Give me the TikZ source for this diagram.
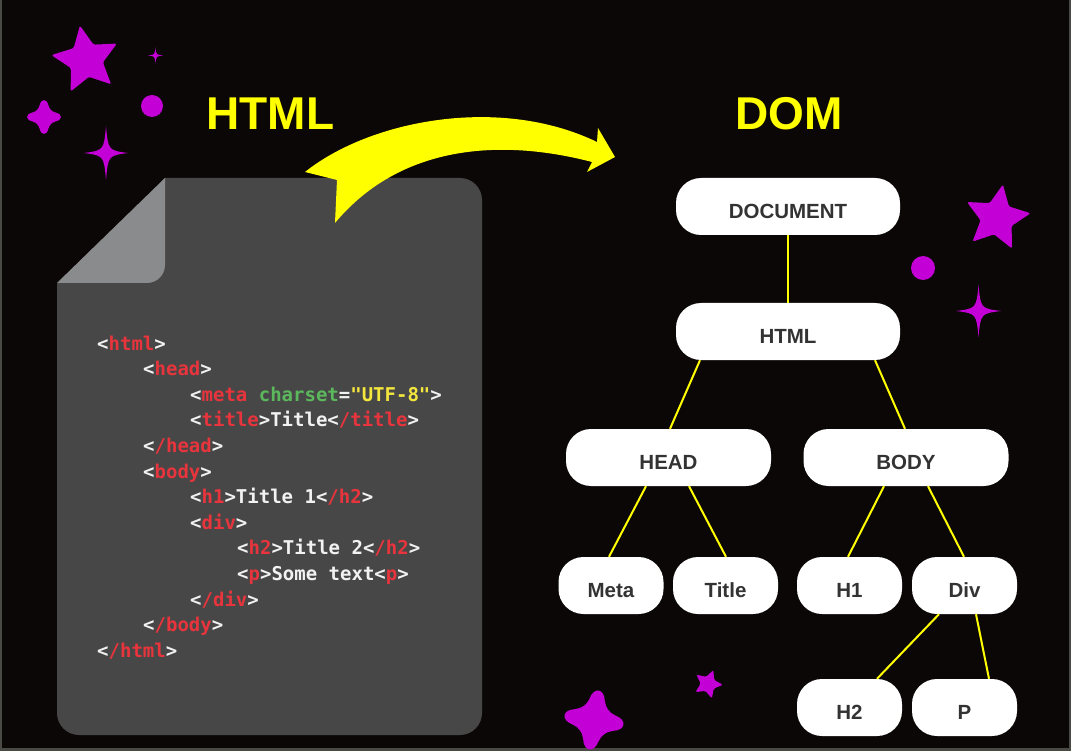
\documentclass[tikz,border=0pt]{standalone}
\usepackage{fontspec}
\setmainfont{Liberation Sans}
\newfontfamily\codefont{DejaVu Sans Mono}
\usetikzlibrary{shapes.geometric,calc}
\definecolor{bg}{HTML}{0C0707}
\definecolor{edgegrey}{HTML}{4A4A44}
\definecolor{docgrey}{HTML}{474747}
\definecolor{foldgrey}{HTML}{898B8D}
\definecolor{tagred}{HTML}{E8343C}
\definecolor{codewhite}{HTML}{F2F2F2}
\definecolor{codegreen}{HTML}{5CB85C}
\definecolor{codeyellow}{HTML}{F3E63C}
\definecolor{hiyellow}{HTML}{FFFF00}
\definecolor{starpurple}{HTML}{C300D6}
\definecolor{nodetext}{HTML}{333333}
\newcommand\cred[1]{\textcolor{tagred}{#1}}
\newcommand\cgreen[1]{\textcolor{codegreen}{#1}}
\newcommand\cyell[1]{\textcolor{codeyellow}{#1}}
\tikzset{
  codeline/.style={anchor=base west, inner sep=0pt, text=codewhite,
    font=\codefont\bfseries\fontsize{19}{19}\selectfont},
  bigtitle/.style={inner sep=0pt, text=hiyellow, font=\bfseries\fontsize{46}{46}\selectfont},
  domnode/.style={fill=white, rounded corners=25pt, minimum height=57pt, inner sep=0pt,
    text=nodetext, font=\bfseries\fontsize{20.5}{20.5}\selectfont, text height=24.5pt, text depth=0pt},
  widenode/.style={domnode, minimum width=224pt},
  midnode/.style={domnode, minimum width=205pt},
  smallnode/.style={domnode, minimum width=105pt},
  link/.style={draw=hiyellow, line width=2pt},
  fivestar/.style={star, star points=5, star point ratio=2.05, fill=starpurple,
    inner sep=0pt, rounded corners=1.5pt},
}
\newcommand\sparkle[3]{% center, half width, half height
  \fill[starpurple, shift={#1}] (0,-#3) .. controls (0.1*#2,-0.1*#3) .. (#2,0)
    .. controls (0.1*#2,0.1*#3) .. (0,#3) .. controls (-0.1*#2,0.1*#3) .. (-#2,0)
    .. controls (-0.1*#2,-0.1*#3) .. cycle;}
\newcommand\softstar[3]{% center, radius, rotation
  \fill[starpurple, shift={#1}, rotate=#3, scale=#2]
    (-0.26,-0.68) .. controls (-0.17,-1.1) and (0.17,-1.1) .. (0.26,-0.68)
    .. controls (0.33,-0.45) and (0.45,-0.33) .. (0.68,-0.26)
    .. controls (1.1,-0.17) and (1.1,0.17) .. (0.68,0.26)
    .. controls (0.45,0.33) and (0.33,0.45) .. (0.26,0.68)
    .. controls (0.17,1.1) and (-0.17,1.1) .. (-0.26,0.68)
    .. controls (-0.33,0.45) and (-0.45,0.33) .. (-0.68,0.26)
    .. controls (-1.1,0.17) and (-1.1,-0.17) .. (-0.68,-0.26)
    .. controls (-0.45,-0.33) and (-0.33,-0.45) .. cycle;}
\begin{document}
\begin{tikzpicture}[x=1pt,y=-1pt]
\useasboundingbox (0,0) rectangle (1071,751);
\fill[edgegrey] (0,0) rectangle (1071,751);
\fill[bg] (2,0) rectangle (1069,748);

% document
\fill[docgrey, rounded corners=22pt] (57,178) rectangle (482,735);
\fill[bg] (56,177) -- (165,177) -- (165,178) -- (57,283) -- (56,283) -- cycle;
\fill[foldgrey] (57,283) -- (165,178) -- (165,265) arc[start angle=0, end angle=90, radius=18] -- cycle;

% arrow
\fill[hiyellow] (305,172) .. controls (370,120) and (500,95) .. (597,142)
  -- (598,128) -- (615,157) -- (587,172) -- (592,162)
  .. controls (500,138) and (400,145) .. (335,223) -- (337,180) -- cycle;

% titles
\node[bigtitle] (htmltitle) at (270.5,114) {HTML};
\node[bigtitle] (domtitle) at (789,114) {DOM};

% code
\node[codeline] (l1) at (97,350) {<\cred{html}>};
\node[codeline] (l2) at (143,375.6) {<\cred{head}>};
\node[codeline] (l3) at (190,401.2) {<\cred{meta} \cgreen{charset}=\cyell{"UTF-8"}>};
\node[codeline] (l4) at (190,426.8) {<\cred{title}>Title<\cred{/title}>};
\node[codeline] (l5) at (143,452.4) {<\cred{/head}>};
\node[codeline] (l6) at (143,478) {<\cred{body}>};
\node[codeline] (l7) at (190,503.6) {<\cred{h1}>Title 1<\cred{/h2}>};
\node[codeline] (l8) at (190,529.2) {<\cred{div}>};
\node[codeline] (l9) at (237,554.8) {<\cred{h2}>Title 2<\cred{/h2}>};
\node[codeline] (l10) at (237,580.4) {<\cred{p}>Some text<\cred{p}>};
\node[codeline] (l11) at (190,606) {<\cred{/div}>};
\node[codeline] (l12) at (143,631.6) {<\cred{/body}>};
\node[codeline] (l13) at (97,657.2) {<\cred{/html}>};

% decorations
\node[fivestar, minimum size=70pt, shape border rotate=10] (s1) at (86,60) {};
\node[fivestar, minimum size=68pt, shape border rotate=-10] (s2) at (997,218) {};
\node[fivestar, minimum size=30pt, shape border rotate=-21] (s3) at (708,684) {};
\softstar{(44,117)}{17}{0}
\softstar{(594,720)}{30}{-9}
\fill[starpurple] (152,106) circle[radius=11];
\fill[starpurple] (923,268) circle[radius=12];
\sparkle{(155.5,55.5)}{7.5}{8}
\sparkle{(106,153)}{22}{27}
\sparkle{(978.5,311)}{22.5}{26}

% tree
\node[widenode] (doc) at (788,206.5) {DOCUMENT};
\node[widenode] (html) at (788,331.5) {HTML};
\node[midnode] (head) at (668.5,457.5) {HEAD};
\node[midnode] (body) at (906,457.5) {BODY};
\node[smallnode] (meta) at (611,585.5) {Meta};
\node[smallnode] (title) at (725.5,585.5) {Title};
\node[smallnode] (h1) at (849.5,585.5) {H1};
\node[smallnode] (div) at (964.5,585.5) {Div};
\node[smallnode] (h2) at (849.5,707.5) {H2};
\node[smallnode] (p) at (964.5,707.5) {P};

\draw[link] (doc.south) -- (html.north);
\draw[link] ($(html.south)+(-88,0)$) -- ($(head.north)+(1.5,0)$);
\draw[link] ($(html.south)+(87,0)$) -- ($(body.north)+(-1,0)$);
\draw[link] ($(head.south)+(-22.5,0)$) -- ($(meta.north)+(-2,0)$);
\draw[link] ($(head.south)+(20.5,0)$) -- ($(title.north)+(0.5,0)$);
\draw[link] ($(body.south)+(-22,0)$) -- ($(h1.north)+(-1.5,0)$);
\draw[link] ($(body.south)+(22,0)$) -- ($(div.north)+(-0.5,0)$);
\draw[link] ($(div.south)+(-25.5,0)$) -- ($(h2.north)+(27.5,0)$);
\draw[link] ($(div.south)+(11.5,0)$) -- ($(p.north)+(24.5,0)$);
\end{tikzpicture}
\end{document}
